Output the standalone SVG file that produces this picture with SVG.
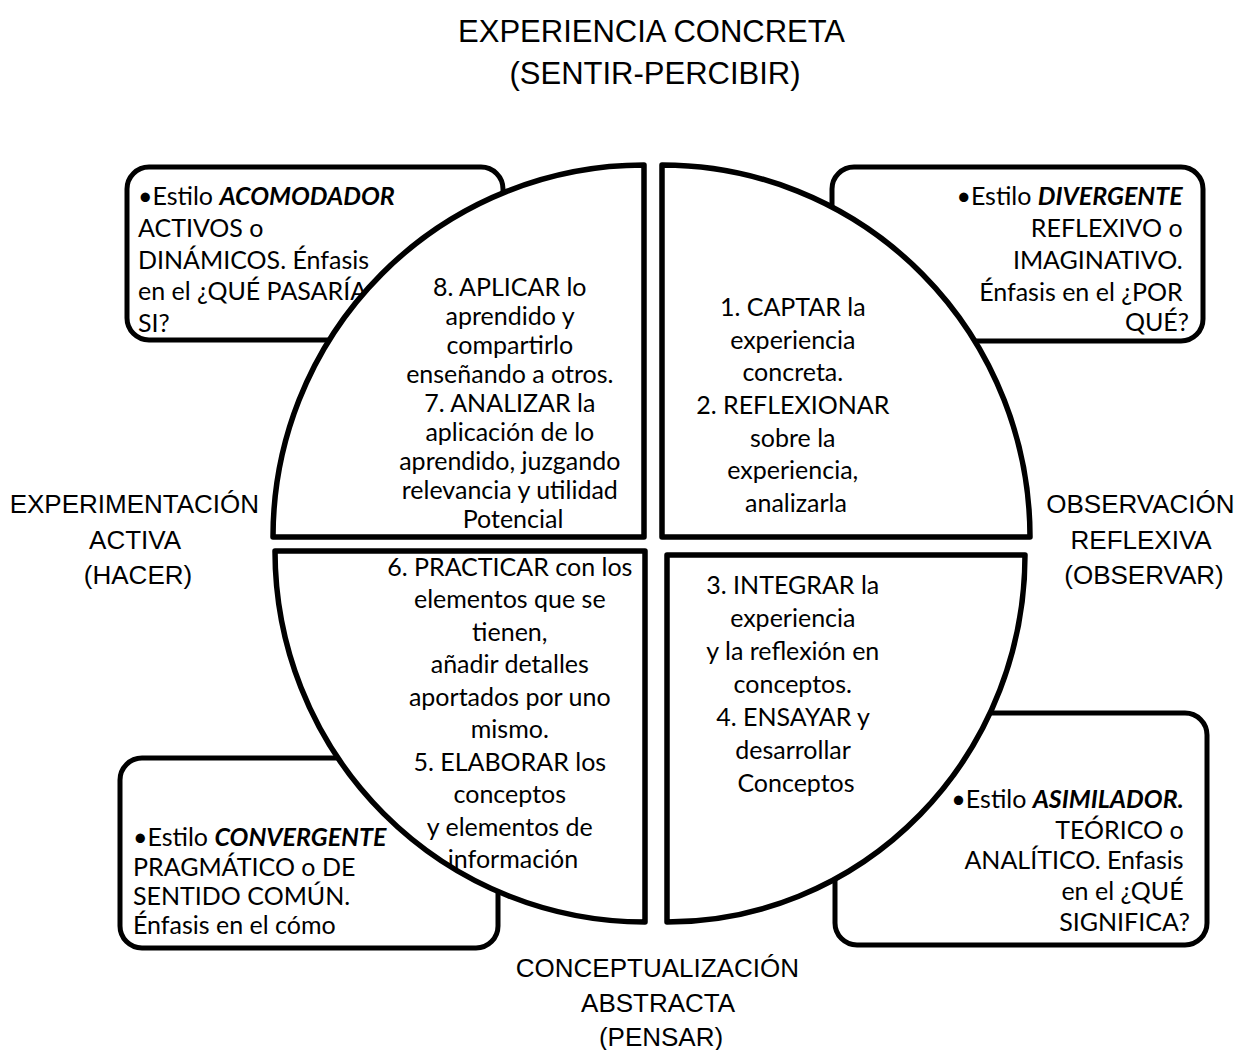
<svg xmlns="http://www.w3.org/2000/svg" width="1240" height="1050" viewBox="0 0 1240 1050">
  <style>
    .bg { fill: #ffffff; }
    .box { fill: #ffffff; stroke: #000000; stroke-width: 5; }
    .quad { fill: #ffffff; stroke: #000000; stroke-width: 5.5; stroke-linejoin: round; }
    .axis { font-family: "Liberation Sans", Arial, sans-serif; font-size: 26px; fill: #000000; text-anchor: middle; }
    .title { font-size: 31px; }
    .qt { font-family: Lato, "Open Sans", sans-serif; font-size: 25px; fill: #000000; text-anchor: middle; }
    .st { font-family: Lato, "Open Sans", sans-serif; font-size: 25px; fill: #000000; }
    .end { text-anchor: end; }
    .em { font-weight: bold; font-style: italic; }
  </style>

  <rect class="bg" x="0" y="0" width="1240" height="1050"/>

  <!-- style boxes (drawn first, the cycle quadrants overlap them) -->
  <g id="box-acomodador">
    <rect class="box" x="127" y="167" width="376" height="173" rx="22"/>
    <text class="st">
      <tspan x="138" y="205">•Estilo <tspan class="em">ACOMODADOR</tspan></tspan>
      <tspan x="138" y="237">ACTIVOS o</tspan>
      <tspan x="138" y="269">DINÁMICOS. Énfasis</tspan>
      <tspan x="138" y="300">en el ¿QUÉ PASARÍA</tspan>
      <tspan x="138" y="332">SI?</tspan>
    </text>
  </g>

  <g id="box-divergente">
    <rect class="box" x="832" y="167" width="371" height="174" rx="22"/>
    <text class="st end">
      <tspan x="1189" y="205">•Estilo <tspan class="em">DIVERGENTE</tspan></tspan>
      <tspan x="1189" y="237">REFLEXIVO o</tspan>
      <tspan x="1189" y="269">IMAGINATIVO.</tspan>
      <tspan x="1189" y="301">Énfasis en el ¿POR</tspan>
      <tspan x="1189" y="331">QUÉ?</tspan>
    </text>
  </g>

  <g id="box-convergente">
    <rect class="box" x="120" y="758" width="378" height="190" rx="22"/>
    <text class="st">
      <tspan x="133" y="846">•Estilo <tspan class="em">CONVERGENTE</tspan></tspan>
      <tspan x="133" y="876">PRAGMÁTICO o DE</tspan>
      <tspan x="133" y="905">SENTIDO COMÚN.</tspan>
      <tspan x="133" y="934">Énfasis en el cómo</tspan>
    </text>
  </g>

  <g id="box-asimilador">
    <rect class="box" x="835" y="713" width="372" height="232" rx="22"/>
    <text class="st end">
      <tspan x="1190" y="808">•Estilo <tspan class="em">ASIMILADOR.</tspan></tspan>
      <tspan x="1190" y="839">TEÓRICO o</tspan>
      <tspan x="1190" y="869">ANALÍTICO. Enfasis</tspan>
      <tspan x="1190" y="900">en el ¿QUÉ</tspan>
      <tspan x="1190" y="931">SIGNIFICA?</tspan>
    </text>
  </g>

  <!-- four quarter-circle sectors of the learning cycle -->
  <g id="quad-aplicar">
    <path class="quad" d="M 644,165 L 644,537 L 273,537 A 371,372 0 0 1 644,165 Z"/>
    <text class="qt">
      <tspan x="513" y="296">8. APLICAR lo</tspan>
      <tspan x="513" y="325">aprendido y</tspan>
      <tspan x="513" y="354">compartirlo</tspan>
      <tspan x="513" y="383">enseñando a otros.</tspan>
      <tspan x="513" y="412">7. ANALIZAR la</tspan>
      <tspan x="513" y="441">aplicación de lo</tspan>
      <tspan x="513" y="470">aprendido, juzgando</tspan>
      <tspan x="513" y="499">relevancia y utilidad</tspan>
      <tspan x="513" y="528">Potencial</tspan>
    </text>
  </g>

  <g id="quad-captar">
    <path class="quad" d="M 662,165 L 662,537 L 1030,537 A 368,372 0 0 0 662,165 Z"/>
    <text class="qt">
      <tspan x="796" y="316">1. CAPTAR la</tspan>
      <tspan x="796" y="349">experiencia</tspan>
      <tspan x="796" y="381">concreta.</tspan>
      <tspan x="796" y="414">2. REFLEXIONAR</tspan>
      <tspan x="796" y="447">sobre la</tspan>
      <tspan x="796" y="479">experiencia,</tspan>
      <tspan x="796" y="512">analizarla</tspan>
    </text>
  </g>

  <g id="quad-integrar">
    <path class="quad" d="M 667,555 L 1025,555 A 358,367 0 0 1 667,922 Z"/>
    <text class="qt">
      <tspan x="796" y="594">3. INTEGRAR la</tspan>
      <tspan x="796" y="627">experiencia</tspan>
      <tspan x="796" y="660">y la reflexión en</tspan>
      <tspan x="796" y="693">conceptos.</tspan>
      <tspan x="796" y="726">4. ENSAYAR y</tspan>
      <tspan x="796" y="759">desarrollar</tspan>
      <tspan x="796" y="792">Conceptos</tspan>
    </text>
  </g>

  <g id="quad-practicar">
    <path class="quad" d="M 645,551 L 275,551 A 370,371 0 0 0 645,922 Z"/>
    <text class="qt">
      <tspan x="513" y="576">6. PRACTICAR con los</tspan>
      <tspan x="513" y="608">elementos que se</tspan>
      <tspan x="513" y="641">tienen,</tspan>
      <tspan x="513" y="673">añadir detalles</tspan>
      <tspan x="513" y="706">aportados por uno</tspan>
      <tspan x="513" y="738">mismo.</tspan>
      <tspan x="513" y="771">5. ELABORAR los</tspan>
      <tspan x="513" y="803">conceptos</tspan>
      <tspan x="513" y="836">y elementos de</tspan>
      <tspan x="513" y="868">información</tspan>
    </text>
  </g>

  <!-- axis pole labels -->
  <g id="label-top">
    <text class="axis title">
      <tspan x="655" y="42">EXPERIENCIA CONCRETA</tspan>
      <tspan x="655" y="84">(SENTIR-PERCIBIR)</tspan>
    </text>
  </g>
  <g id="label-left">
    <text class="axis">
      <tspan x="138" y="513">EXPERIMENTACIÓN</tspan>
      <tspan x="138" y="549">ACTIVA</tspan>
      <tspan x="138" y="584">(HACER)</tspan>
    </text>
  </g>
  <g id="label-right">
    <text class="axis">
      <tspan x="1144" y="513">OBSERVACIÓN</tspan>
      <tspan x="1144" y="549">REFLEXIVA</tspan>
      <tspan x="1144" y="584">(OBSERVAR)</tspan>
    </text>
  </g>
  <g id="label-bottom">
    <text class="axis">
      <tspan x="661" y="977">CONCEPTUALIZACIÓN</tspan>
      <tspan x="661" y="1012">ABSTRACTA</tspan>
      <tspan x="661" y="1046">(PENSAR)</tspan>
    </text>
  </g>

  <!-- no connectors in this figure -->
  <g id="connectors"/>
</svg>
